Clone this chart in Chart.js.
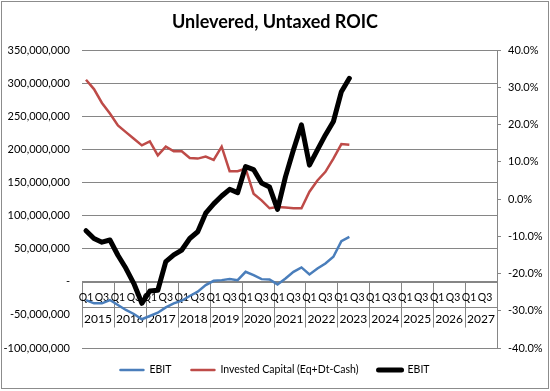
<!DOCTYPE html>
<html><head><meta charset="utf-8">
<script src="https://cdn.jsdelivr.net/npm/chart.js@4.4.0/dist/chart.umd.min.js"></script>
<style>html,body{margin:0;padding:0;background:#fff;}#wrap{width:550px;height:391px;position:relative;}</style>
</head><body><div id="wrap"><canvas id="c" width="550" height="391"></canvas></div>
<script>
// ---- data ----
const years = ['2015','2016','2017','2018','2019','2020','2021','2022','2023','2024','2025','2026','2027'];
const quarters = ['Q1','Q2','Q3','Q4'];
const quarterTickLabels = ['Q1','','Q3',''];
const ebit = [-27600000,-32500000,-32500000,-27600000,-35000000,-42600000,-48600000,-56600000,-51700000,-46700000,-38600000,-32500000,-28600000,-21500000,-15000000,-5000000,1500000,2500000,4000000,2500000,15000000,10000000,4000000,3500000,-4000000,5000000,15000000,21700000,11000000,20000000,27700000,37700000,61300000,67800000];
const investedCapital = [305000000,291000000,270000000,254000000,236000000,226000000,216000000,206000000,212000000,191000000,204000000,197000000,197000000,187000000,186000000,189000000,184000000,204000000,167000000,167000000,171000000,133000000,123000000,111000000,113000000,112000000,111000000,111000000,136000000,153000000,166000000,186000000,208000000,207000000];
const roic = [-0.085,-0.106,-0.116,-0.110,-0.151,-0.186,-0.227,-0.280,-0.247,-0.245,-0.168,-0.150,-0.137,-0.106,-0.088,-0.038,-0.013,0.008,0.026,0.017,0.087,0.079,0.043,0.032,-0.028,0.060,0.132,0.199,0.091,0.132,0.172,0.208,0.288,0.324];
const seriesNames = ['EBIT','Invested Capital (Eq+Dt-Cash)','EBIT'];
const leftAxis = {min:-100000000, max:350000000, step:50000000};
const rightAxis = {min:-0.4, max:0.4, step:0.1};

const categories = [];
years.forEach(y => quarters.forEach(q => categories.push(q + ' ' + y)));

const GRID = '#868686';
const FONT = 'Lato, "Open Sans", sans-serif';

const axisPlugin = {
  id: 'catAxis',
  beforeDraw(chart) {
    const {ctx, width, height} = chart;
    ctx.save();
    ctx.fillStyle = '#fff';
    ctx.fillRect(0, 0, width, height);
    ctx.strokeStyle = '#8c8c8c';
    ctx.lineWidth = 1;
    ctx.strokeRect(1.5, 1.5, width - 3, height - 4);
    ctx.restore();
  },
  beforeDatasetsDraw(chart) {
    const {ctx, chartArea: a, scales: {x, y}} = chart;
    const y0 = Math.round(y.getPixelForValue(0)) + 0.5;
    ctx.save();
    ctx.strokeStyle = GRID;
    ctx.lineWidth = 1;
    ctx.beginPath();
    ctx.moveTo(a.left, y0); ctx.lineTo(a.right, y0);
    ctx.moveTo(a.left, y0 + 25); ctx.lineTo(a.right, y0 + 25);
    for (let k = 0; k <= years.length; k++) {
      let px;
      if (k === 0) px = a.left;
      else if (k === years.length) px = a.right;
      else px = (x.getPixelForValue(4 * k - 1) + x.getPixelForValue(4 * k)) / 2;
      px = Math.round(px) + 0.5;
      ctx.moveTo(px, y0); ctx.lineTo(px, y0 + 45);
    }
    ctx.stroke();
    ctx.fillStyle = '#000';
    ctx.font = '10.5px ' + FONT;
    ctx.textAlign = 'center';
    ctx.textBaseline = 'middle';
    categories.forEach((c, i) => {
      const t = quarterTickLabels[i % 4];
      if (t) ctx.fillText(t, x.getPixelForValue(i), y0 + 15);
    });
    ctx.font = '12px ' + FONT;
    years.forEach((yr, k) => {
      const cx = (x.getPixelForValue(4 * k) + x.getPixelForValue(4 * k + 3)) / 2;
      ctx.fillText(yr, cx, y0 + 37);
    });
    ctx.restore();
  },
  afterDraw(chart) {
    const {ctx} = chart;
    ctx.save();
    ctx.font = '10.5px ' + FONT;
    ctx.textBaseline = 'middle';
    const lineLen = 23, gap = 6, itemGap = 20;
    const ds = chart.data.datasets;
    const widths = ds.map(d => lineLen + gap + ctx.measureText(d.label).width);
    const total = widths.reduce((s, w) => s + w, 0) + itemGap * (ds.length - 1);
    let cx = chart.width / 2 - total / 2;
    const cy = 370;
    ds.forEach((d, i) => {
      ctx.strokeStyle = d.borderColor;
      ctx.lineWidth = d.borderWidth;
      ctx.lineCap = 'round';
      ctx.beginPath();
      ctx.moveTo(cx, cy); ctx.lineTo(cx + lineLen, cy);
      ctx.stroke();
      ctx.fillStyle = '#000';
      ctx.textAlign = 'left';
      ctx.fillText(d.label, cx + lineLen + gap, cy);
      cx += widths[i] + itemGap;
    });
    ctx.restore();
  }
};

new Chart(document.getElementById('c'), {
  type: 'line',
  data: {
    labels: categories,
    datasets: [
      {label: seriesNames[0], data: ebit, yAxisID: 'y', borderColor: '#4A7EBB', borderWidth: 2.5, pointRadius: 0, order: 2},
      {label: seriesNames[1], data: investedCapital, yAxisID: 'y', borderColor: '#BE4B48', borderWidth: 2.5, pointRadius: 0, order: 1},
      {label: seriesNames[2], data: roic, yAxisID: 'y1', borderColor: '#000000', borderWidth: 5, pointRadius: 0, order: 0, borderJoinStyle: 'round', borderCapStyle: 'round'}
    ]
  },
  options: {
    responsive: false,
    animation: false,
    devicePixelRatio: 1,
    layout: {padding: {left: 0, right: 0, top: 0, bottom: 43}},
    plugins: {
      legend: {display: false},
      tooltip: {enabled: false},
      title: {display: true, text: 'Unlevered, Untaxed ROIC', color: '#000', font: {family: FONT, size: 18, weight: 'bold'}, padding: {top: 11.2, bottom: 17.2}}
    },
    scales: {
      x: {type: 'category', display: false, offset: true},
      y: {
        position: 'left', min: leftAxis.min, max: leftAxis.max,
        afterFit(s) { s.width = 82; },
        border: {display: false},
        grid: {color: c => (c.tick && c.tick.value === -50000000) ? 'rgba(0,0,0,0)' : GRID, lineWidth: 1, drawTicks: false},
        ticks: {stepSize: leftAxis.step, padding: 12, color: '#000', font: {family: FONT, size: 11},
          callback: v => v === 0 ? '-' : Number(v).toLocaleString('en-US')}
      },
      y1: {
        position: 'right', min: rightAxis.min, max: rightAxis.max,
        afterFit(s) { s.width = 53; },
        border: {display: true, color: GRID, width: 1},
        grid: {drawOnChartArea: false, drawTicks: true, tickLength: 4, color: GRID},
        ticks: {stepSize: rightAxis.step, padding: 7, color: '#000', font: {family: FONT, size: 11},
          callback: v => { const p = Math.abs(v) < 1e-9 ? 0 : v; return (p * 100).toFixed(1) + '%'; }}
      }
    }
  },
  plugins: [axisPlugin]
});
</script></body></html>
